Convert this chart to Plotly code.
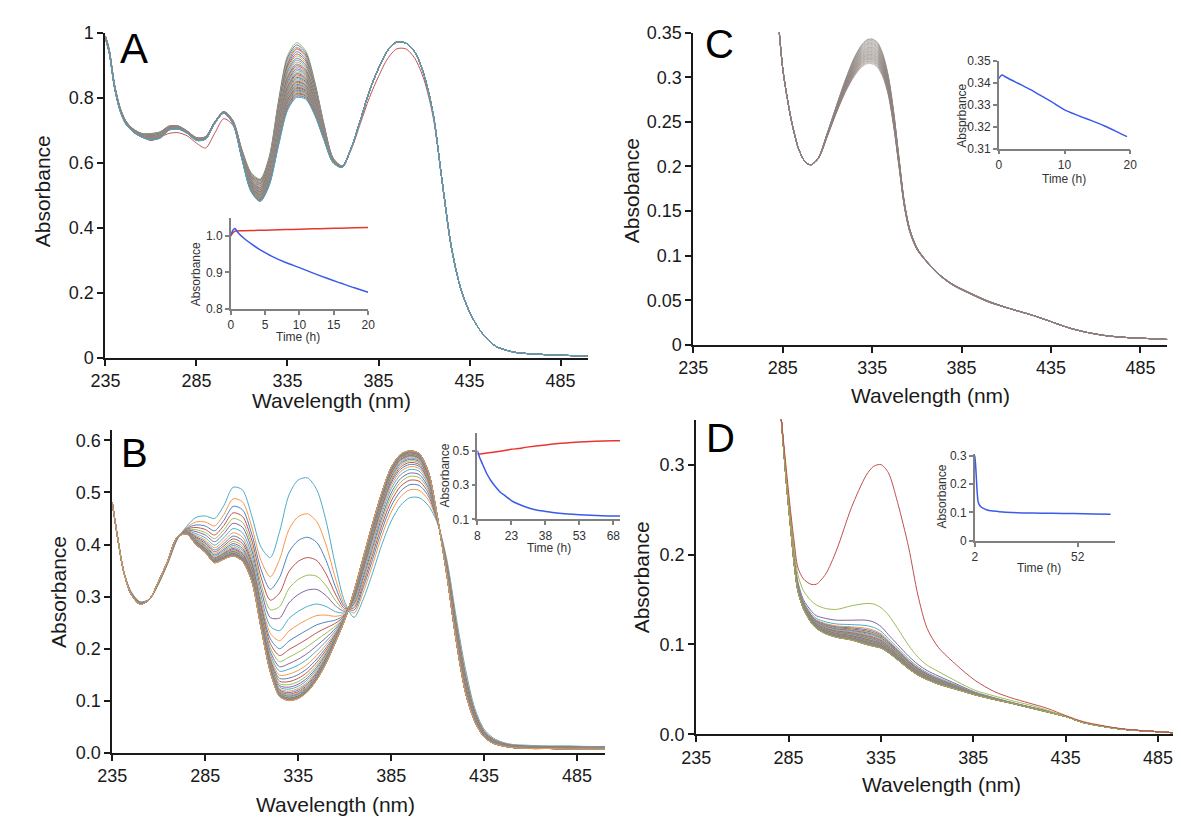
import plotly.graph_objects as go

FONT = "Liberation Sans, Arial, sans-serif"
W, H = 1181, 822
EXCEL = ['#4F81BD', '#C0504D', '#9BBB59', '#8064A2', '#4BACC6', '#F79646']
RED_I = '#E8362F'
BLUE_I = '#3A5BEA'

# ---------------- Panel A ----------------
A_wl = [235, 237, 240, 243, 246, 250, 255, 260, 265, 270, 275, 280, 285, 290, 295, 300, 305, 310, 315, 320,
        325, 330, 335, 340, 345, 350, 355, 360, 365, 370, 375, 380, 385, 390, 395, 400, 405, 410, 415, 420,
        425, 430, 435, 440, 445, 450, 460, 470, 485, 500]
A_first = [0.99, 0.95, 0.84, 0.77, 0.73, 0.70, 0.68, 0.668, 0.678, 0.69, 0.692, 0.682, 0.66, 0.645, 0.69, 0.735,
           0.715, 0.63, 0.56, 0.545, 0.61, 0.77, 0.905, 0.95, 0.93, 0.84, 0.715, 0.61, 0.59, 0.64, 0.72, 0.80,
           0.865, 0.92, 0.95, 0.95, 0.92, 0.855, 0.74, 0.54, 0.34, 0.215, 0.14, 0.09, 0.055, 0.033, 0.016,
           0.011, 0.007, 0.005]
A_hi = [0.99, 0.95, 0.84, 0.77, 0.73, 0.705, 0.69, 0.69, 0.695, 0.713, 0.713, 0.697, 0.677, 0.68, 0.725, 0.757,
        0.73, 0.64, 0.57, 0.55, 0.62, 0.79, 0.93, 0.97, 0.945, 0.85, 0.72, 0.615, 0.59, 0.645, 0.73, 0.82, 0.89,
        0.945, 0.972, 0.968, 0.94, 0.87, 0.75, 0.54, 0.34, 0.215, 0.14, 0.09, 0.055, 0.033, 0.016, 0.011,
        0.007, 0.005]
A_lo = [0.98, 0.94, 0.83, 0.76, 0.72, 0.695, 0.678, 0.67, 0.675, 0.70, 0.703, 0.69, 0.668, 0.672, 0.72, 0.752,
        0.72, 0.61, 0.51, 0.48, 0.53, 0.65, 0.76, 0.80, 0.795, 0.745, 0.67, 0.60, 0.585, 0.645, 0.73, 0.82, 0.89,
        0.945, 0.97, 0.968, 0.94, 0.87, 0.75, 0.54, 0.34, 0.215, 0.14, 0.09, 0.055, 0.033, 0.016, 0.011,
        0.007, 0.005]
A_ref_wl = 340
A_peak340 = [0.969, 0.962, 0.955, 0.948, 0.941, 0.934, 0.928, 0.921, 0.915, 0.909, 0.903, 0.898, 0.893,
             0.888, 0.883, 0.878, 0.874, 0.870, 0.866, 0.862, 0.858, 0.854, 0.850, 0.847, 0.844, 0.840,
             0.837, 0.834, 0.831, 0.828, 0.825, 0.822, 0.819, 0.816, 0.813, 0.810, 0.807, 0.804, 0.800]
A_ins_t_red = [0, 0.3, 0.7, 2, 4, 6, 8, 10, 12, 14, 16, 18, 20]
A_ins_red = [1.0, 1.008, 1.013, 1.014, 1.015, 1.016, 1.017, 1.018, 1.019, 1.020, 1.021, 1.022, 1.023]
A_ins_t_blue = [0, 0.3, 0.6, 1, 2, 3, 4, 5, 6, 8, 10, 12, 14, 16, 18, 20]
A_ins_blue = [1.0, 1.015, 1.02, 1.01, 0.992, 0.978, 0.965, 0.954, 0.944, 0.927, 0.913, 0.898, 0.884,
              0.871, 0.858, 0.846]

# ---------------- Panel B ----------------
B_wl = [235, 238, 241, 245, 250, 255, 260, 265, 270, 275, 280, 285, 290, 295, 300, 305, 310, 315, 320, 325,
        330, 335, 340, 345, 350, 355, 360, 365, 370, 375, 380, 385, 390, 395, 400, 405, 410, 415, 420, 425,
        430, 435, 440, 445, 450, 460, 470, 480, 490, 500]
B_first = [0.48, 0.41, 0.35, 0.31, 0.29, 0.295, 0.325, 0.365, 0.41, 0.435,
           0.452, 0.455, 0.45, 0.475, 0.51, 0.505, 0.455, 0.395, 0.375, 0.425,
           0.495, 0.524, 0.528, 0.505, 0.445, 0.36, 0.29, 0.26, 0.295, 0.345,
           0.40, 0.445, 0.475, 0.49, 0.49, 0.475, 0.44, 0.37, 0.26, 0.16,
           0.085, 0.045, 0.028, 0.02, 0.016, 0.014, 0.013, 0.013, 0.012, 0.012]
B_last = [0.48, 0.41, 0.35, 0.305, 0.285, 0.295, 0.33, 0.37, 0.415, 0.42,
          0.40, 0.385, 0.365, 0.372, 0.378, 0.368, 0.33, 0.24, 0.155, 0.108,
          0.10, 0.104, 0.117, 0.14, 0.172, 0.212, 0.255, 0.31, 0.375, 0.44,
          0.50, 0.548, 0.573, 0.58, 0.575, 0.54, 0.45, 0.34, 0.215, 0.115,
          0.06, 0.03, 0.018, 0.013, 0.01, 0.008, 0.008, 0.007, 0.007, 0.007]
B_ref_wl = 340
B_peak340 = [0.528, 0.459, 0.414, 0.375, 0.341, 0.3125, 0.281, 0.256, 0.236, 0.219,
             0.204, 0.191, 0.18, 0.17, 0.162, 0.155, 0.149, 0.144, 0.14, 0.136,
             0.133, 0.13, 0.128, 0.126, 0.1245, 0.123, 0.122, 0.121, 0.1202, 0.1195,
             0.119, 0.1185, 0.118, 0.1177, 0.1175, 0.1173, 0.1171, 0.117]
B_ins_t_red = [8, 10, 15, 20, 23, 26, 30, 38, 45, 53, 60, 68, 71]
B_ins_red = [0.48, 0.482, 0.49, 0.50, 0.507, 0.512, 0.52, 0.533, 0.542, 0.55, 0.554, 0.557, 0.557]
B_ins_t_blue = [8, 9, 10, 12, 14, 16, 18, 20, 23, 26, 30, 34, 38, 43, 48, 53, 58, 63, 68, 71]
B_ins_blue = [0.5, 0.46, 0.43, 0.37, 0.325, 0.29, 0.26, 0.24, 0.21, 0.19, 0.17, 0.155, 0.147, 0.138,
              0.132, 0.128, 0.125, 0.122, 0.12, 0.12]

# ---------------- Panel C ----------------
C_wl = [283, 285, 287, 290, 294, 298, 301, 305, 310, 315, 320, 325, 329, 332, 335, 338, 341, 344, 347, 350,
        353, 356, 360, 365, 372, 380, 390, 400, 413, 425, 435, 445, 455, 465, 475, 490, 500]
C_hi = [0.352, 0.31, 0.283, 0.25, 0.219, 0.204, 0.202, 0.21, 0.238, 0.268,
        0.297, 0.322, 0.336, 0.342, 0.343, 0.339, 0.326, 0.302, 0.262, 0.21,
        0.16, 0.13, 0.109, 0.095, 0.08, 0.068, 0.058, 0.049, 0.04, 0.033,
        0.026, 0.019, 0.014, 0.0105, 0.0085, 0.007, 0.006]
C_lo = [0.352, 0.31, 0.283, 0.25, 0.219, 0.204, 0.202, 0.209, 0.234, 0.26,
        0.283, 0.301, 0.311, 0.315, 0.315, 0.311, 0.30, 0.28, 0.245, 0.20,
        0.155, 0.127, 0.107, 0.094, 0.079, 0.067, 0.057, 0.048, 0.04, 0.033,
        0.026, 0.019, 0.014, 0.0105, 0.0085, 0.007, 0.006]
C_ref_wl = 335
C_peak335 = [0.3430, 0.3425, 0.3418, 0.3410, 0.3402, 0.3394, 0.3386, 0.3378, 0.3370, 0.3362,
             0.3354, 0.3346, 0.3338, 0.3331, 0.3324, 0.3317, 0.3310, 0.3303, 0.3296, 0.3289,
             0.3282, 0.3275, 0.3268, 0.3262, 0.3255, 0.3249, 0.3242, 0.3236, 0.3229, 0.3223,
             0.3216, 0.3210, 0.3203, 0.3197, 0.3190, 0.3183, 0.3176, 0.3168, 0.3160, 0.3150]
C_ins_t = [0, 0.5, 1, 2, 3, 4, 5, 6, 7, 8, 9, 10, 12, 14, 16, 18, 19.5]
C_ins_abs = [0.342, 0.3436, 0.3428, 0.3412, 0.3397, 0.3382, 0.3367, 0.3349, 0.3332, 0.3315, 0.3295,
             0.3277, 0.3252, 0.3229, 0.3205, 0.3177, 0.3155]

# ---------------- Panel D ----------------
D_wl = [281, 284, 286, 288, 290, 293, 297, 300, 305, 311, 319, 327, 331, 335, 339, 344, 350, 355, 360, 366,
        376, 386, 396, 405, 415, 425, 435, 445, 465, 485, 500]
D_red = [0.352, 0.29, 0.25, 0.215, 0.186, 0.173, 0.167, 0.167, 0.178, 0.205,
         0.252, 0.288, 0.298, 0.30, 0.291, 0.258, 0.208, 0.155, 0.118, 0.097,
         0.077, 0.06, 0.048, 0.041, 0.035, 0.029, 0.021, 0.014, 0.0065, 0.003, 0.001]
D_green = [0.352, 0.285, 0.245, 0.207, 0.178, 0.16, 0.149, 0.144, 0.14, 0.139,
           0.143, 0.1455, 0.145, 0.141, 0.133, 0.118, 0.099, 0.086, 0.077, 0.07,
           0.059, 0.049, 0.043, 0.038, 0.033, 0.027, 0.02, 0.013, 0.006, 0.003, 0.001]
D_hi = [0.352, 0.282, 0.24, 0.20, 0.17, 0.15, 0.138, 0.132, 0.129, 0.127,
        0.127, 0.127, 0.125, 0.12, 0.111, 0.10, 0.087, 0.078, 0.071, 0.065,
        0.056, 0.047, 0.041, 0.036, 0.031, 0.026, 0.02, 0.013, 0.006, 0.003, 0.001]
D_lo = [0.352, 0.275, 0.232, 0.19, 0.16, 0.14, 0.125, 0.118, 0.112, 0.108,
        0.105, 0.10, 0.098, 0.096, 0.091, 0.083, 0.073, 0.066, 0.061, 0.056,
        0.05, 0.044, 0.039, 0.035, 0.03, 0.025, 0.02, 0.013, 0.006, 0.003, 0.001]
D_ref_wl = 327
D_peak327 = [0.127, 0.121, 0.118, 0.1165, 0.115, 0.114, 0.113, 0.112, 0.111, 0.110,
             0.109, 0.1083, 0.1076, 0.107, 0.1064, 0.1058, 0.1052, 0.1047, 0.1042, 0.1037,
             0.1033, 0.1029, 0.1025, 0.1021, 0.1018, 0.1015, 0.1012, 0.1009, 0.1007, 0.1005,
             0.1004, 0.1003, 0.1002, 0.1001, 0.1, 0.1]
D_ins_t = [2, 2.4, 2.8, 3.2, 3.6, 4, 5, 6, 8, 10, 14, 20, 30, 40, 50, 60, 68]
D_ins_abs = [0.3, 0.27, 0.22, 0.17, 0.14, 0.13, 0.12, 0.115, 0.109, 0.106, 0.103, 0.1, 0.098, 0.097,
             0.096, 0.095, 0.094]

WL_TICKS = [235, 285, 335, 385, 435, 485]


def family(wl, hi, lo, ref_wl, ref_vals):
    k = wl.index(ref_wl)
    out = []
    for p in ref_vals:
        f = (p - lo[k]) / (hi[k] - lo[k])
        out.append([l + f * (h - l) for h, l in zip(hi, lo)])
    return out


def xdom(a, b):
    return [a / W, b / W]


def ydom(top, bottom):
    return [1 - bottom / H, 1 - top / H]


fig = go.Figure()


def add_line(x, y, ax, color, width=1.0, opacity=1.0):
    fig.add_trace(go.Scatter(x=x, y=y, mode='lines', xaxis='x' + ax, yaxis='y' + ax,
                             line=dict(color=color, width=width, shape='spline', smoothing=0.8),
                             opacity=opacity, hoverinfo='skip', showlegend=False))


# Panel A curves
add_line(A_wl, A_first, '', EXCEL[1])
for i, spec in enumerate(family(A_wl, A_hi, A_lo, A_ref_wl, A_peak340)):
    add_line(A_wl, spec, '', EXCEL[(2 + i) % 6])
# Panel B curves
for i, spec in enumerate(family(B_wl, B_first, B_last, B_ref_wl, B_peak340)):
    add_line(B_wl, spec, '2', EXCEL[(4 + i) % 6])
# Panel C curves
for i, spec in enumerate(family(C_wl, C_hi, C_lo, C_ref_wl, C_peak335)):
    add_line(C_wl, spec, '3', EXCEL[i % 6], opacity=0.45)
# Panel D curves
for i, spec in enumerate(family(D_wl, D_hi, D_lo, D_ref_wl, D_peak327)):
    add_line(D_wl, spec, '4', EXCEL[(3 + i) % 6])
add_line(D_wl, D_green, '4', EXCEL[2])
add_line(D_wl, D_red, '4', EXCEL[1])

# Insets
add_line(A_ins_t_red, A_ins_red, '5', RED_I, 1.5)
add_line(A_ins_t_blue, A_ins_blue, '5', BLUE_I, 1.5)
add_line(B_ins_t_red, B_ins_red, '6', RED_I, 1.5)
add_line(B_ins_t_blue, B_ins_blue, '6', BLUE_I, 1.5)
add_line(C_ins_t, C_ins_abs, '7', BLUE_I, 1.5)
add_line(D_ins_t, D_ins_abs, '8', BLUE_I, 1.5)

TXT = '#1a1a1a'


def main_x(dom, anchor, rng):
    return dict(domain=dom, anchor=anchor, range=rng, showline=True, linecolor=TXT, linewidth=2,
                ticks='outside', ticklen=6, tickwidth=2, tickcolor=TXT, showgrid=False, zeroline=False,
                tickmode='array', tickvals=WL_TICKS, ticktext=[str(v) for v in WL_TICKS],
                tickfont=dict(family=FONT, size=18, color=TXT), fixedrange=True)


def main_y(dom, anchor, rng, vals, texts):
    return dict(domain=dom, anchor=anchor, range=rng, showline=True, linecolor=TXT, linewidth=2,
                ticks='outside', ticklen=6, tickwidth=2, tickcolor=TXT, showgrid=False, zeroline=False,
                tickmode='array', tickvals=vals, ticktext=texts,
                tickfont=dict(family=FONT, size=18, color=TXT), fixedrange=True)


def ins_ax(dom, anchor, rng, vals, texts):
    return dict(domain=dom, anchor=anchor, range=rng, showline=True, linecolor='#808080', linewidth=1.5,
                ticks='outside', ticklen=4, tickwidth=1.5, tickcolor='#808080', showgrid=False,
                zeroline=False, tickmode='array', tickvals=vals, ticktext=texts,
                tickfont=dict(family=FONT, size=12, color='#333333'), fixedrange=True)


layout = dict(width=W, height=H, margin=dict(l=0, r=0, t=0, b=0), paper_bgcolor='white',
              plot_bgcolor='rgba(0,0,0,0)', showlegend=False, font=dict(family=FONT))

layout['xaxis'] = main_x(xdom(84, 575.6), 'y', [235, 500])
layout['yaxis'] = main_y(ydom(15, 348), 'x', [0, 1], [0, 0.2, 0.4, 0.6, 0.8, 1],
                         ['0', '0.2', '0.4', '0.6', '0.8', '1'])
layout['xaxis2'] = main_x(xdom(91, 593), 'y2', [235, 500])
layout['yaxis2'] = main_y(ydom(422.3, 753), 'x2', [0, 0.62], [0, 0.1, 0.2, 0.3, 0.4, 0.5, 0.6],
                          ['0.0', '0.1', '0.2', '0.3', '0.4', '0.5', '0.6'])
layout['xaxis3'] = main_x(xdom(683, 1166), 'y3', [235, 500])
layout['yaxis3'] = main_y(ydom(15, 335), 'x3', [0, 0.35], [0, 0.05, 0.1, 0.15, 0.2, 0.25, 0.3, 0.35],
                          ['0', '0.05', '0.1', '0.15', '0.2', '0.25', '0.3', '0.35'])
layout['xaxis4'] = main_x(xdom(686, 1181), 'y4', [235, 498])
layout['yaxis4'] = main_y(ydom(411.6, 734.3), 'x4', [0, 0.35], [0, 0.1, 0.2, 0.3],
                          ['0.0', '0.1', '0.2', '0.3'])

layout['xaxis5'] = ins_ax(xdom(211.7, 351.7), 'y5', [0, 20], [0, 5, 10, 15, 20], ['0', '5', '10', '15', '20'])
layout['yaxis5'] = ins_ax(ydom(204.5, 298.3), 'x5', [0.8, 1.05], [0.8, 0.9, 1.0], ['0.8', '0.9', '1.0'])
layout['xaxis6'] = ins_ax(xdom(463, 608.5), 'y6', [8, 71], [8, 23, 38, 53, 68], ['8', '23', '38', '53', '68'])
layout['yaxis6'] = ins_ax(ydom(425.7, 514), 'x6', [0.1, 0.6], [0.1, 0.3, 0.5], ['0.1', '0.3', '0.5'])
layout['xaxis7'] = ins_ax(xdom(994.3, 1128.3), 'y7', [0, 20], [0, 10, 20], ['0', '10', '20'])
layout['yaxis7'] = ins_ax(ydom(44, 134), 'x7', [0.31, 0.35], [0.31, 0.32, 0.33, 0.34, 0.35],
                          ['0.31', '0.32', '0.33', '0.34', '0.35'])
layout['xaxis8'] = ins_ax(xdom(969.8, 1112.4), 'y8', [2, 70], [2, 52], ['2', '52'])
layout['yaxis8'] = ins_ax(ydom(447, 536), 'x8', [0, 0.305], [0, 0.1, 0.2, 0.3], ['0', '0.1', '0.2', '0.3'])

fig.update_layout(**layout)

ann = []


def text(x, y, s, size, color=TXT, angle=0, xanchor='center'):
    ann.append(dict(x=x / W, y=1 - y / H, xref='paper', yref='paper', text=s, showarrow=False,
                    textangle=angle, xanchor=xanchor, yanchor='middle',
                    font=dict(family=FONT, size=size, color=color)))


# axis titles (main)
text(20, 178, 'Absorbance', 21, angle=-90)
text(314, 392, 'Wavelength (nm)', 21)
text(36, 588, 'Absorbance', 21, angle=-90)
text(318, 806, 'Wavelength (nm)', 21)
text(620, 177, 'Absobance', 21, angle=-90)
text(925, 387, 'Wavelength (nm)', 21)
text(630, 573, 'Absorbance', 21, angle=-90)
text(936, 786, 'Wavelength (nm)', 21)
# inset titles
text(176, 263, 'Absorbance', 12, '#333333', -90)
text(280, 327, 'Time (h)', 12, '#333333')
text(430, 469, 'Absorbance', 12, '#333333', -90)
text(536, 543, 'Time (h)', 12, '#333333')
text(956, 100, 'Absprbance', 12, '#333333', -90)
text(1061, 165, 'Time (h)', 12, '#333333')
text(937, 491, 'Absorbance', 12, '#333333', -90)
text(1035, 564, 'Time (h)', 12, '#333333')
# panel letters
text(97, 31, 'A', 42, '#000000', xanchor='left')
text(98, 446, 'B', 40, '#000000', xanchor='left')
text(693, 27, 'C', 40, '#000000', xanchor='left')
text(694, 430, 'D', 40, '#000000', xanchor='left')

fig.update_layout(annotations=ann)
fig.write_html("out.html")
